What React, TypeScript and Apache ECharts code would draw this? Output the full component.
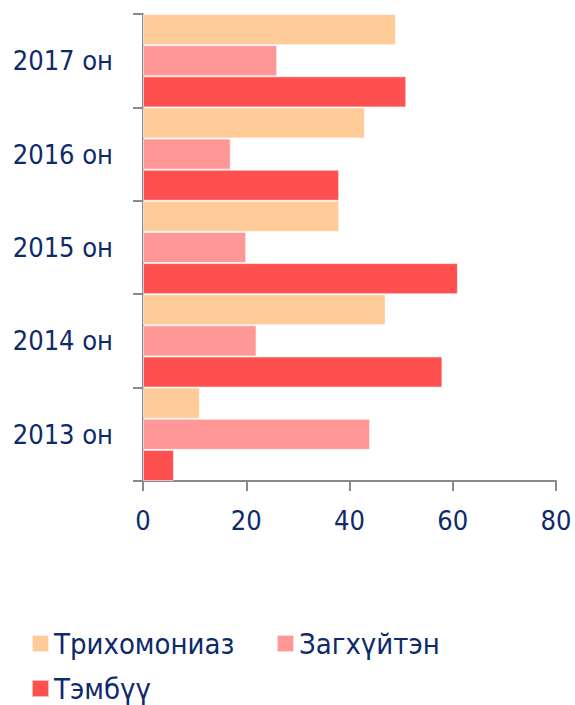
import React, { useEffect, useRef } from "react";
import * as echarts from "echarts";

const categories = ["2013 он", "2014 он", "2015 он", "2016 он", "2017 он"];
const trichomoniasis = [11, 47, 38, 43, 49];
const gonorrhea = [44, 22, 20, 17, 26];
const syphilis = [6, 58, 61, 38, 51];
const xTicks = { min: 0, max: 80, interval: 20 };

const NAVY = "#0E2A6B";
const FONT = "DejaVu Sans Condensed";
const AXIS = "#8A8A8A";

export default function App() {
  const ref = useRef<HTMLDivElement>(null);
  useEffect(() => {
    if (!ref.current) return;
    const chart = echarts.init(ref.current, undefined, { renderer: "svg" });
    const legendText = {
      color: NAVY,
      fontFamily: FONT,
      fontSize: 29,
    };
    const legendCommon = {
      orient: "horizontal" as const,
      itemWidth: 17,
      itemHeight: 17,
      icon: "rect",
      padding: 0,
      textStyle: legendText,
      selectedMode: false,
    };
    const barStyle = (color: string) => ({
      color,
      borderColor: "rgba(255,255,255,0.6)",
      borderWidth: 1,
    });
    chart.setOption({
      animation: false,
      grid: { left: 143, right: 19, top: 14, bottom: 224, containLabel: false },
      legend: [
        { ...legendCommon, left: 31, top: 629, data: ["Трихомониаз"] },
        { ...legendCommon, left: 276, top: 629, data: ["Загхүйтэн"] },
        { ...legendCommon, left: 31, top: 674, data: ["Тэмбүү"] },
      ],
      xAxis: {
        type: "value",
        min: xTicks.min,
        max: xTicks.max,
        interval: xTicks.interval,
        axisLine: { show: true, lineStyle: { color: AXIS, width: 2 } },
        axisTick: { show: true, length: 10, lineStyle: { color: AXIS, width: 2 } },
        splitLine: { show: false },
        axisLabel: { color: NAVY, fontFamily: FONT, fontSize: 27, margin: 26 },
      },
      yAxis: {
        type: "category",
        data: categories,
        axisLine: { show: true, lineStyle: { color: AXIS, width: 2 } },
        axisTick: { show: true, length: 10, lineStyle: { color: AXIS, width: 2 } },
        axisLabel: { color: NAVY, fontFamily: FONT, fontSize: 27, margin: 30 },
      },
      series: [
        {
          name: "Трихомониаз",
          type: "bar",
          data: trichomoniasis,
          barGap: "0%",
          barCategoryGap: "0%",
          itemStyle: barStyle("#FFCC99"),
        },
        {
          name: "Загхүйтэн",
          type: "bar",
          data: gonorrhea,
          barGap: "0%",
          barCategoryGap: "0%",
          itemStyle: barStyle("#FF9797"),
        },
        {
          name: "Тэмбүү",
          type: "bar",
          data: syphilis,
          barGap: "0%",
          barCategoryGap: "0%",
          itemStyle: barStyle("#FF5050"),
        },
      ],
    });
    return () => chart.dispose();
  }, []);
  return (
    <div
      ref={ref}
      style={{ position: "fixed", left: 0, top: 0, width: 575, height: 705, background: "#fff" }}
    />
  );
}
